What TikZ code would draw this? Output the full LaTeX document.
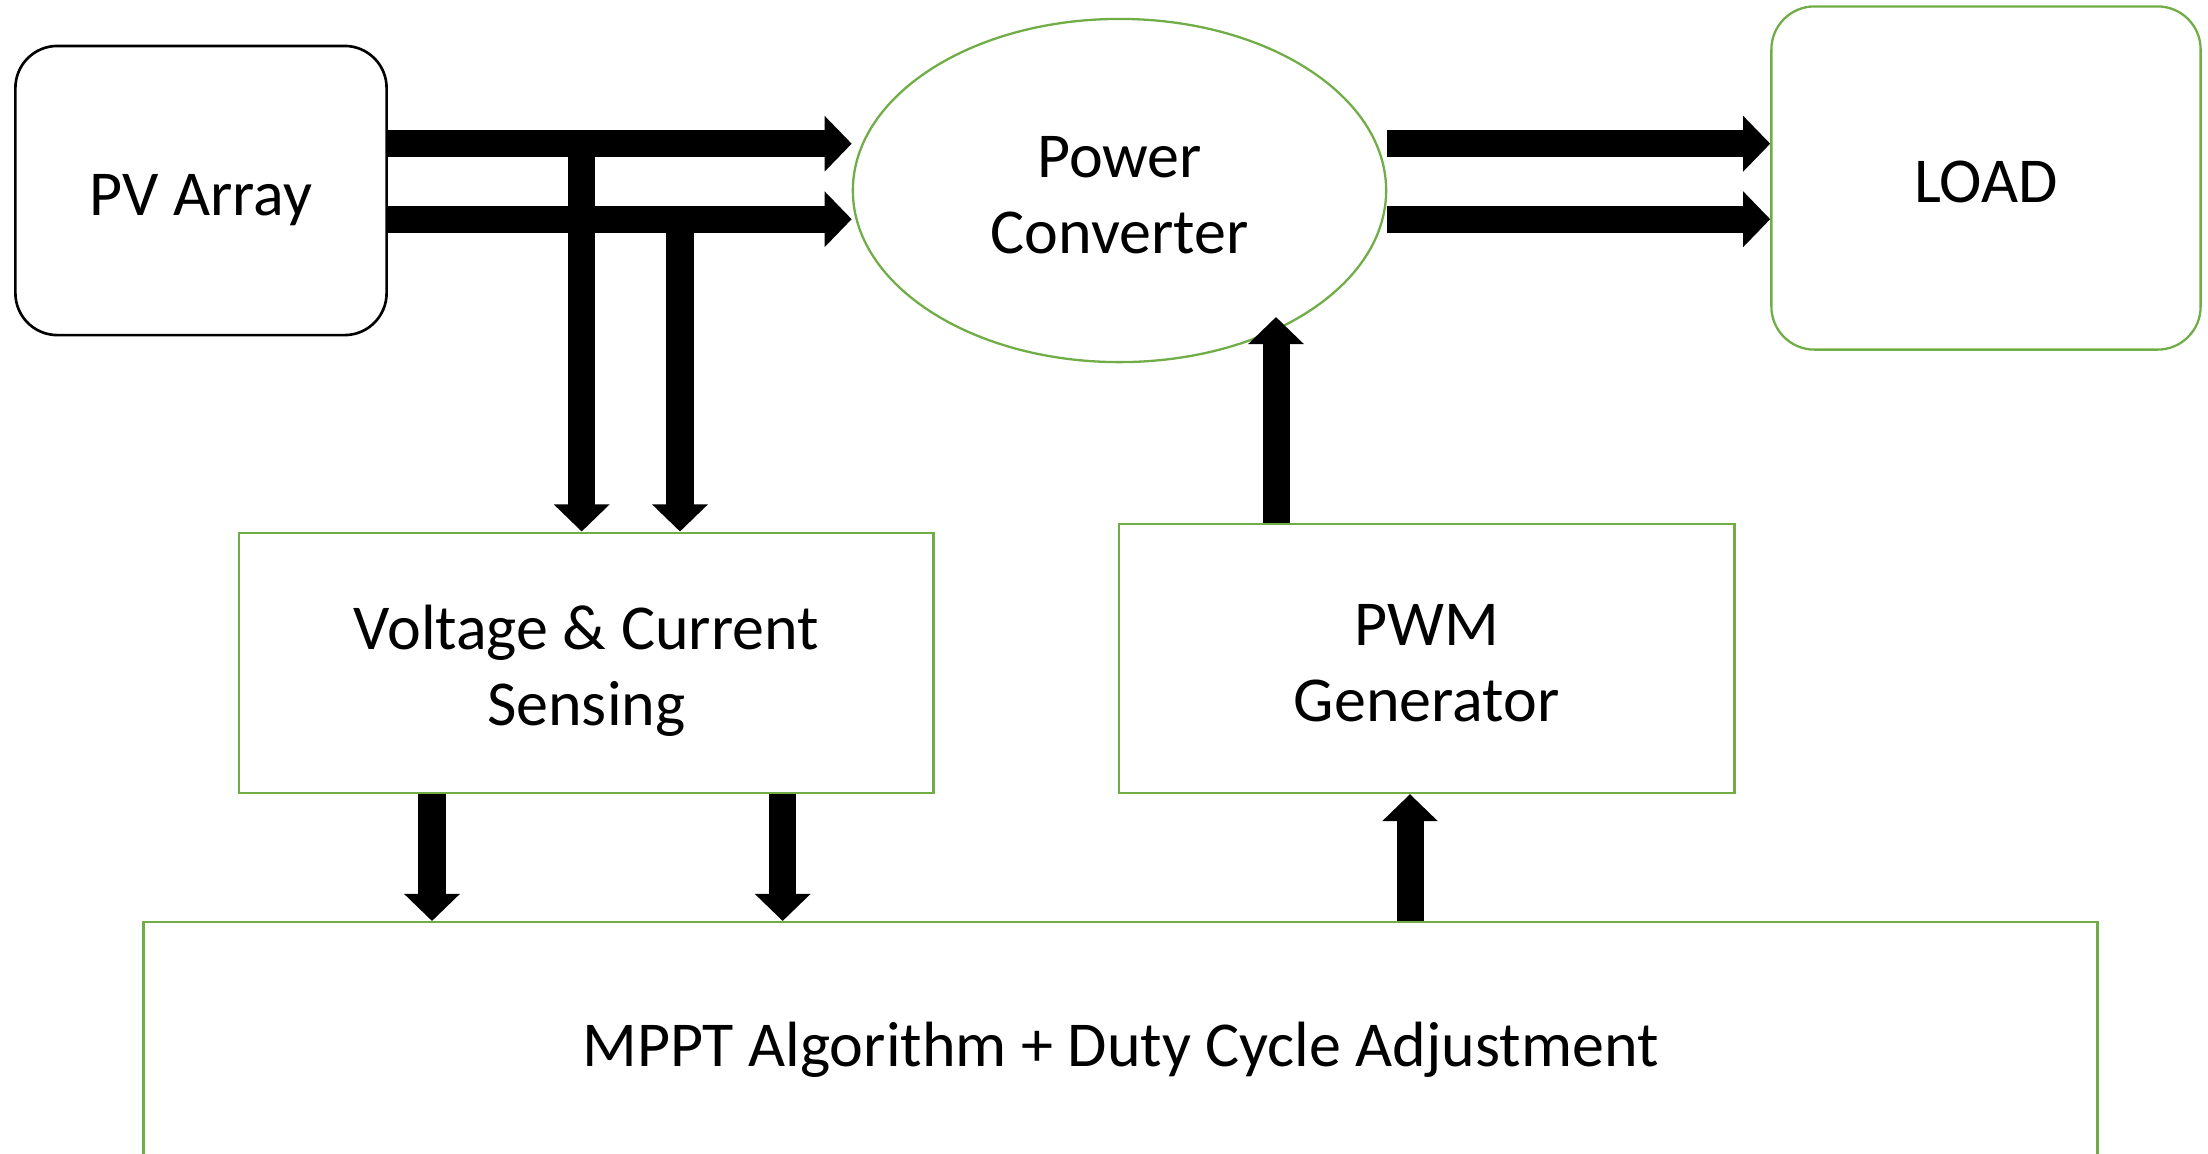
\documentclass[tikz,border=0pt]{standalone}
\usepackage{fontspec}
\setmainfont{Carlito}
\usepackage[HTML]{xcolor}
\usetikzlibrary{positioning, arrows.meta, shapes.geometric}
\definecolor{boxgreen}{HTML}{70AD47}
\newcommand{\topstrut}{\rule{0pt}{1.025em}}

\begin{document}
\begin{tikzpicture}[x=0.01cm, y=-0.01cm,
  every node/.style={font=\fontsize{18.2}{21.6}\selectfont, align=center,
    execute at begin node={\topstrut},
    execute at end node={\rule[-0.25em]{0pt}{0pt}}},
  blk/.style={draw=boxgreen, line width=0.65pt},
  bus/.style={line width=0.27cm, -{Triangle[length=0.27cm, width=0.54cm]}}]
\useasboundingbox (0,0) rectangle (2208,1153);

\node[draw, line width=0.75pt, rounded corners=0.42cm, minimum width=3.71cm, minimum height=2.89cm] (pv) at (201,190.5) {PV Array};
\node[blk, ellipse, minimum width=5.33cm, minimum height=3.43cm] (conv) at (1119.5,190.5) {\topstrut Power\\Converter};
\node[blk, rounded corners=0.43cm, minimum width=4.29cm, minimum height=3.43cm] (load) at (1986,178) {LOAD};
\node[blk, minimum width=6.94cm, minimum height=2.60cm] (sense) at (586.3,662.7) {\topstrut Voltage \& Current\\Sensing};
\node[blk, minimum width=6.15cm, minimum height=2.69cm] (pwm) at (1426.7,658.4) {\topstrut PWM\\Generator};
\node[blk, minimum width=19.53cm, minimum height=2.39cm] (mppt) at (1120.5,1041.7) {MPPT Algorithm + Duty Cycle Adjustment};

\coordinate (tapV) at (581.7,143.7);
\coordinate (tapI) at (680,219.2);
\coordinate (ctl) at (1276,317);

\draw[bus] (pv.east |- 0,143.7) -- (conv.west |- 0,143.7);
\draw[bus] (pv.east |- 0,219.2) -- (conv.west |- 0,219.2);
\draw[bus] (tapV) -- (tapV |- sense.north);
\draw[bus] (tapI) -- (tapI |- sense.north);
\draw[bus] (conv.east |- 0,143.7) -- (load.west |- 0,143.7);
\draw[bus] (conv.east |- 0,219.2) -- (load.west |- 0,219.2);
\draw[bus] (pwm.north -| ctl) -- (ctl);
\draw[bus] (sense.south -| 432,0) -- (mppt.north -| 432,0);
\draw[bus] (sense.south -| 782.7,0) -- (mppt.north -| 782.7,0);
\draw[bus] (mppt.north -| 1410,0) -- (pwm.south -| 1410,0);
\end{tikzpicture}
\end{document}
